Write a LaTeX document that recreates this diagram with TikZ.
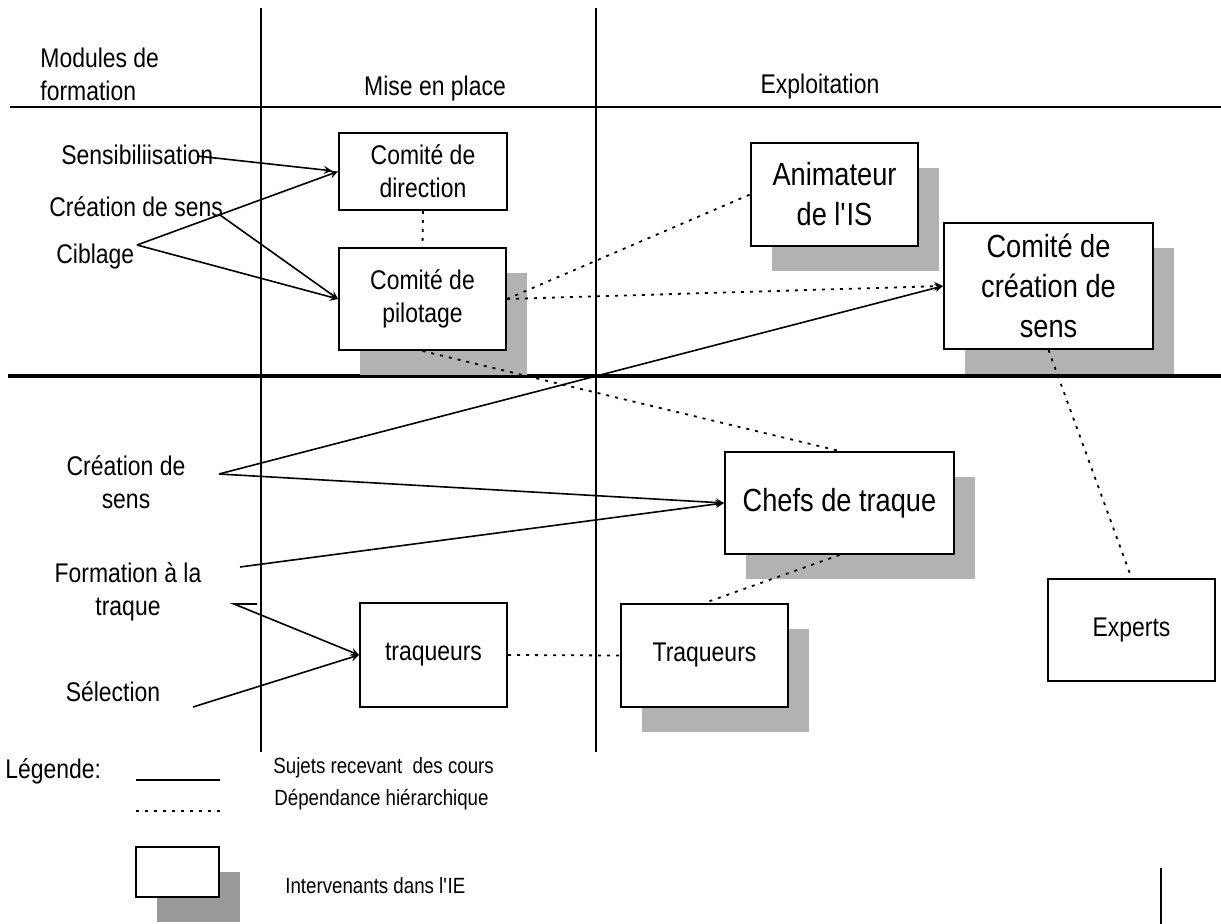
\documentclass[tikz,border=0pt]{standalone}
\usepackage{fontspec}
\setmainfont[FakeStretch=0.85]{Liberation Sans}
\usetikzlibrary{shadows}

\definecolor{shadegray}{gray}{0.7}
\definecolor{legendgray}{gray}{0.6}

\begin{document}
\begin{tikzpicture}[
    x = 0.5pt, y = -0.5pt, % pixel grid, y going down
    > = stealth, % arrow head style
    cours/.style = {line width=0.8pt}, % subjects taking courses
    dep/.style = {line width=0.9pt, dash pattern=on 1.5pt off 3pt}, % hierarchy
    lbl/.style = {inner sep=0pt, align=center, font=\fontsize{13.5}{16.5}\selectfont},
    legtext/.style = {inner sep=0pt, anchor=west, font=\fontsize{11}{13}\selectfont},
    bigtext/.style = {font=\fontsize{16}{20}\selectfont},
    box/.style = {draw, fill=white, line width=1pt, inner sep=0pt, align=center,
        font=\fontsize{13.5}{16.5}\selectfont},
    actor/.style = {box, drop shadow={shadow xshift=10.5pt, shadow yshift=-12.5pt,
        fill=shadegray, opacity=1}}
]
\useasboundingbox (0,0) rectangle (1221,924);

% Frame
\draw[line width=0.8pt] (261,8) -- (261,752);
\draw[line width=0.8pt] (596,8) -- (596,752);
\draw[line width=0.8pt] (10,107) -- (1221,107);
\draw[line width=1.8pt] (8,376) -- (1221,376);
\draw[line width=0.8pt] (1161,868) -- (1161,924);

% Headers
\node[lbl, align=left, anchor=west] (modules) at (40,74) {Modules de\\formation};
\node[lbl] (miseplace) at (435,89) {Mise en place};
\node[lbl] (exploit) at (820,87) {Exploitation};

% Modules
\node[lbl, anchor=west] (sensib) at (61,155) {Sensibiliisation};
\node[lbl, anchor=west] (creahaut) at (49,207) {Création de sens};
\node[lbl, anchor=west] (ciblage) at (56,257) {Ciblage};
\node[lbl] (creabas) at (126,482) {Création de\\sens};
\node[lbl] (formtraque) at (128,592) {Formation à la\\traque};
\node[lbl] (selection) at (113,692) {Sélection};

% Intervenants
\node[box, minimum width=84pt, minimum height=38.5pt] (dir) at (423,171.5) {Comité de\\direction};
\node[actor, minimum width=83.5pt, minimum height=51pt] (pil) at (422.5,299) {Comité de\\pilotage};
\node[actor, bigtext, minimum width=83.5pt, minimum height=51.5pt] (anim) at (834.5,194.5) {Animateur\\de l\textquotesingle IS};
\node[actor, bigtext, minimum width=104.5pt, minimum height=63pt] (crea) at (1048.5,286) {Comité de\\création de\\sens};
\node[actor, bigtext, minimum width=114.5pt, minimum height=51pt] (chefs) at (839.5,503) {Chefs de traque};
\node[box, minimum width=73.5pt, minimum height=52pt] (trql) at (433.5,655) {traqueurs};
\node[actor, minimum width=83.5pt, minimum height=51.5pt] (trq) at (704.5,655.5) {Traqueurs};
\node[box, minimum width=83.5pt, minimum height=51pt] (exp) at (1131.5,630) {Experts};

% Courses, top
\coordinate (sensA) at (197,156);
\coordinate (cibA) at (137,245);
\coordinate (creaA) at (220,215);
\draw[cours, ->, shorten >=3pt] (sensA) -- (dir.west);
\draw[cours, ->] (cibA) -- (dir.west);
\draw[cours, ->] (cibA) -- (pil.west);
\draw[cours, ->] (creaA) -- (pil.west);

% Courses, bottom
\coordinate (creaB) at (219,474);
\coordinate (formA) at (240,567);
\coordinate (formB) at (234,604);
\coordinate (formC) at (257,604);
\coordinate (selA) at (193,707);
\draw[cours, ->] (creaB) -- (crea.west);
\draw[cours, ->] (creaB) -- (chefs.west);
\draw[cours, ->] (formA) -- (chefs.west);
\draw[cours, ->] (formC) -- (formB) -- (trql.west);
\draw[cours, ->] (selA) -- (trql.west);

% Hierarchy
\draw[dep] (dir.south) -- (pil.north);
\draw[dep] (pil.east) -- (anim.west);
\draw[dep, ->] (pil.east) -- (crea.west);
\draw[dep] (pil.south) -- (chefs.north);
\draw[dep] (crea.south) -- (exp.north);
\draw[dep] (chefs.south) -- (trq.north);
\draw[dep] (trql.east) -- (trq.west);

% Legend
\node[lbl, anchor=west] (legende) at (5,771) {Légende:};
\coordinate (solA) at (136,780);
\coordinate (solB) at (220,780);
\draw[line width=1.2pt] (solA) -- (solB);
\coordinate (dotA) at (136,811);
\coordinate (dotB) at (220,811);
\draw[dep] (dotA) -- (dotB);
\node[legtext] (sujets) at (273,768) {Sujets recevant~~des cours};
\node[legtext] (depend) at (274,800) {Dépendance hiérarchique};
\node[box, minimum width=41.5pt, minimum height=25pt,
    drop shadow={shadow xshift=10.5pt, shadow yshift=-12.5pt, fill=legendgray, opacity=1}] (legbox) at (177.5,872) {};
\node[legtext] (interv) at (285,886) {Intervenants dans l\textquotesingle IE};

\end{tikzpicture}
\end{document}
